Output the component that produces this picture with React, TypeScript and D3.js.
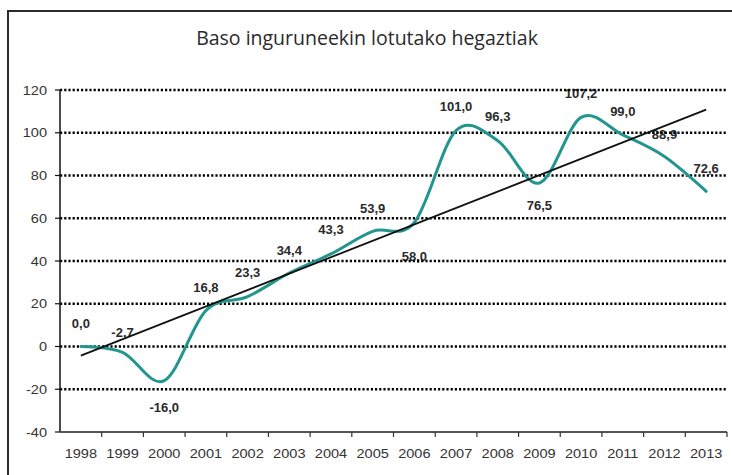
import React from 'react';
import * as d3 from 'd3';

const years = ['1998', '1999', '2000', '2001', '2002', '2003', '2004', '2005', '2006', '2007', '2008', '2009', '2010', '2011', '2012', '2013'];
const values = [0.0, -2.7, -16.0, 16.8, 23.3, 34.4, 43.3, 53.9, 58.0, 101.0, 96.3, 76.5, 107.2, 99.0, 88.9, 72.6];
const yTicks = [-40, -20, 0, 20, 40, 60, 80, 100, 120];
// vertical offset of each data label from its point
const labelDy = [-23, -20, 27, -23, -24, -23, -24, -23, 34, -24, -24, 22, -24, -23, -22, -23];

const title = 'Baso inguruneekin lotutako hegaztiak';

export default function App() {
  const width = 732;
  const height = 475;
  const left = 60, right = 727, top = 90, bottom = 432;

  const x = d3.scaleBand<string>().domain(years).range([left, right]);
  const y = d3.scaleLinear().domain([-40, 120]).range([bottom, top]);
  const cx = (yr: string) => (x(yr) as number) + x.bandwidth() / 2;

  const pts: [number, number][] = years.map((yr, i) => [cx(yr), y(values[i])]);
  const line = d3.line().curve(d3.curveCardinal.tension(0));

  // linear trend (least squares)
  const idx = years.map((_, i) => i);
  const mx = d3.mean(idx) as number;
  const my = d3.mean(values) as number;
  const slope = d3.sum(idx, i => (i - mx) * (values[i] - my)) / d3.sum(idx, i => (i - mx) ** 2);
  const icpt = my - slope * mx;
  const n = years.length - 1;

  const fmt = (v: number) => v.toFixed(1).replace('.', ',');
  const axisFont = 'Liberation Sans, Arial, sans-serif';

  return (
    <svg width={width} height={height} style={{ position: 'absolute', left: 0, top: 0, background: '#fff' }}>
      <rect x={8} y={11} width={740} height={480} fill="#fff" stroke="#2b2b2b" strokeWidth={2} />
      <text x={367} y={45} textAnchor="middle" fontFamily="Open Sans, sans-serif" fontSize={19.5} fill="#2a2a2a">{title}</text>

      {/* data labels (under the lines) */}
      {values.map((v, i) => (
        <text key={'l' + i} x={cx(years[i])} y={y(v) + labelDy[i]} dy="0.35em" textAnchor="middle"
          fontFamily={axisFont} fontSize={13} fontWeight="bold" fill="#2a2a2a">{fmt(v)}</text>
      ))}

      {/* dotted gridlines */}
      {yTicks.filter(t => t !== -40).map(t => (
        <line key={'g' + t} x1={left} x2={right} y1={y(t)} y2={y(t)} stroke="#000" strokeWidth={2.5} strokeDasharray="2.2,2" />
      ))}

      {/* y axis */}
      <line x1={left} x2={left} y1={top} y2={bottom} stroke="#111" strokeWidth={1.5} />
      {yTicks.map(t => (
        <g key={'y' + t}>
          <line x1={left - 5} x2={left} y1={y(t)} y2={y(t)} stroke="#111" strokeWidth={1.2} />
          <text transform={`translate(47,${y(t)}) scale(1.12,1)`} dy="0.35em" textAnchor="end"
            fontFamily={axisFont} fontSize={13} fill="#333">{t}</text>
        </g>
      ))}

      {/* x axis */}
      <line x1={left} x2={right} y1={bottom} y2={bottom} stroke="#555" strokeWidth={2} />
      {years.map(yr => (
        <g key={'x' + yr}>
          <line x1={(x(yr) as number) + x.bandwidth()} x2={(x(yr) as number) + x.bandwidth()} y1={bottom} y2={bottom + 5} stroke="#333" strokeWidth={1.2} />
          <text transform={`translate(${cx(yr)},453) scale(1.12,1)`} dy="0.35em" textAnchor="middle"
            fontFamily={axisFont} fontSize={13} fill="#333">{yr}</text>
        </g>
      ))}

      {/* series */}
      <path d={line(pts) as string} fill="none" stroke="#22968e" strokeWidth={3} strokeLinejoin="round" strokeLinecap="round" />
      <line x1={cx(years[0])} y1={y(icpt)} x2={cx(years[n])} y2={y(icpt + slope * n)} stroke="#111" strokeWidth={1.8} />
    </svg>
  );
}
